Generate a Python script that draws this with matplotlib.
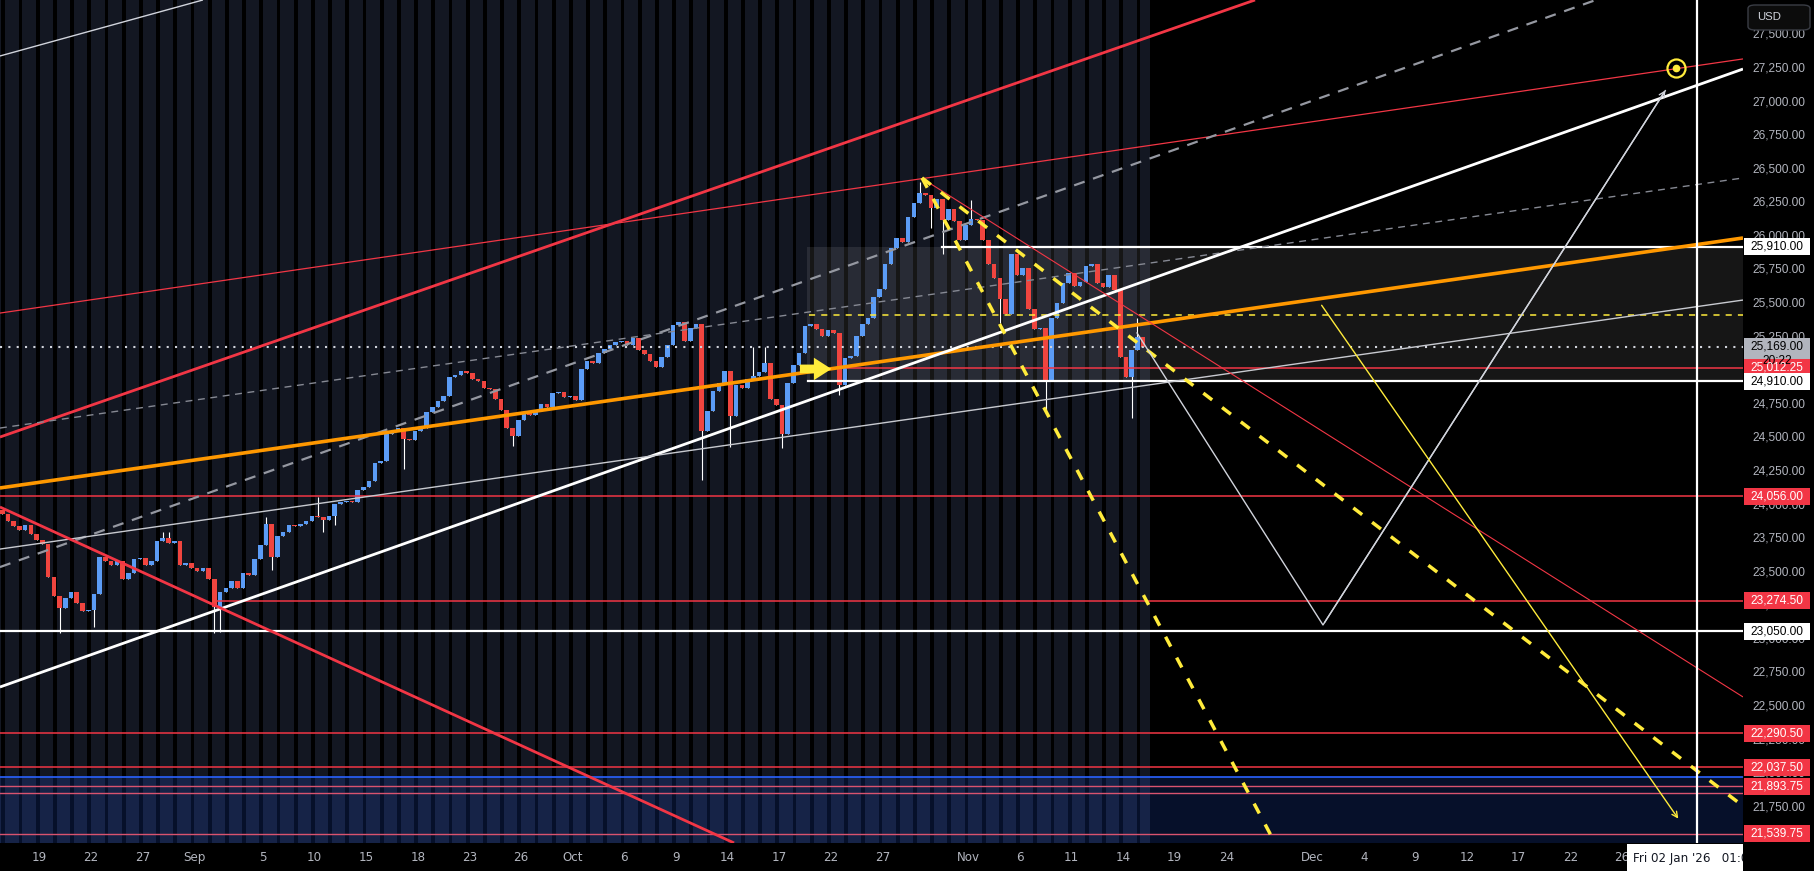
import numpy as np
import matplotlib.pyplot as plt
from matplotlib.patches import Rectangle, FancyBboxPatch
from matplotlib.transforms import blended_transform_factory

plt.rcParams['font.family'] = ['Liberation Sans', 'DejaVu Sans']

# ---- scales: x is trading-day index (Aug 19 = 0), y is price
price_ticks = np.arange(21750, 27501, 250)
date_tick_idx = [0, 3, 6, 9, 13, 16, 19, 22, 25, 28, 31, 34, 37, 40, 43, 46, 49,
                 54, 57, 60, 63, 66, 69, 74, 77, 80, 83, 86, 89, 92]
date_tick_lbl = ['19', '22', '27', 'Sep', '5', '10', '15', '18', '23', '26', 'Oct',
                 '6', '9', '14', '17', '22', '27', 'Nov', '6', '11', '14', '19',
                 '24', 'Dec', '4', '9', '12', '17', '22', '26']
x_range = (-2.297, 99.04)
y_range = (21472.7, 27748.8)
now_t = 64.55          # last bar time, session shading stops here
cursor_t = 96.37       # vertical line (Fri 02 Jan '26)

# ---- candles, 3 per trading day starting Aug 15 (last third)
first_open = 23950
closes = [
    23920, 23870, 23830, 23800, 23840, 23770, 23730, 23700, 23450, 23310,
    23220, 23300, 23340, 23260, 23200, 23210, 23330, 23600, 23570, 23545,
    23570, 23440, 23480, 23590, 23595, 23540, 23570, 23720, 23745, 23705,
    23720, 23540, 23555, 23520, 23500, 23520, 23440, 23230, 23340, 23370,
    23420, 23370, 23480, 23470, 23590, 23690, 23850, 23600, 23760, 23790,
    23840, 23830, 23850, 23870, 23905, 23900, 23880, 23910, 24000, 24010,
    24020, 24010, 24100, 24120, 24170, 24300, 24320, 24520, 24540, 24560,
    24480, 24470, 24540, 24560, 24680, 24720, 24760, 24800, 24940, 24960,
    24990, 24970, 24930, 24910, 24860, 24850, 24780, 24700, 24560, 24500,
    24620, 24680, 24660, 24700, 24740, 24720, 24820, 24830, 24790, 24800,
    24770, 25000, 25060, 25050, 25120, 25150, 25180, 25200, 25210, 25180,
    25230, 25140, 25110, 25060, 25020, 25090, 25180, 25330, 25350, 25210,
    25310, 25340, 24540, 24690, 24840, 24900, 24990, 24650, 24880, 24860,
    24930, 24950, 24980, 25050, 24780, 24730, 24520, 24900, 25030, 25120,
    25320, 25340, 25300, 25250, 25290, 25270, 24880, 25080, 25100, 25250,
    25340, 25380, 25540, 25600, 25780, 25900, 25980, 25950, 26130, 26240,
    26310, 26300, 26200, 26270, 26110, 26190, 26100, 25960, 26070, 26120,
    26110, 25960, 25780, 25680, 25520, 25410, 25860, 25700, 25750, 25450,
    25300, 25310, 24920, 25380, 25490, 25640, 25720, 25620, 25650, 25770,
    25780, 25640, 25610, 25700, 25590, 25090, 24940, 25140, 25240, 25169,
]
wick_high = {28: 23790, 29: 23788, 46: 23900, 55: 24049, 131: 25165, 133: 25165,
             160: 26396, 169: 26260, 198: 25380}
wick_low = {10: 23036, 16: 23080, 37: 23036, 38: 23040, 47: 23505, 56: 23788,
            58: 23840, 70: 24260, 89: 24430, 122: 24175, 127: 24421, 136: 24413,
            146: 24808, 162: 26050, 164: 25860, 174: 25345, 182: 24700, 197: 24640}

# ---- horizontal levels: price, start index (None = full width)
lvl_white = [(25910, 52.47), (24910, 44.68), (23050, None)]
lvl_red = [(25012.25, 46.95), (24056, None), (23274.5, 10.32), (22290.5, None), (22037.5, None)]
lvl_pink = [21893.75, 21845, 21539.75]
lvl_blue = 21964
lvl_yellow = (25403, 44.74)
last_price = 25169
box_range = (44.62, 24910, 25910)

# ---- drawn trend lines (index, price)
trend_pts = {
    'white_top': [(-2.3, 27332), (9.5, 27749)],
    'red_thick_up': [(-2.3, 24495), (70.67, 27749)],
    'red_thin_up': [(-2.3, 25418), (99.04, 27310)],
    'gray_dash_long': [(-2.3, 23527), (90.49, 27749)],
    'gray_dash_fine': [(-2.3, 24562), (99.04, 26424)],
    'orange': [(-2.3, 24116), (99.04, 25977)],
    'white_thick_up': [(-2.3, 22634), (99.04, 27235)],
    'white_thin_up': [(-2.3, 23661), (99.04, 25515)],
    'red_thick_down': [(-2.3, 23974), (40.38, 21473)],
    'red_thin_down': [(51.37, 26416), (99.04, 22560)],
    'yellow_dash_steep': [(51.31, 26424), (71.83, 21473)],
    'yellow_dash': [(51.31, 26424), (99.04, 21748)],
}
zigzag_pts = [(63.81, 25270), (74.62, 23096), (94.62, 27094)]
yellow_arrow_pts = [(74.45, 25493), (95.37, 21637)]
fat_arrow_pts = [(44.05, 25002), (46.2, 25002)]
target_pt = (95.15, 27242)

axis_tags = [
    (25910.0, '25,910.00', 'white', 'black'),
    (25169.0, '25,169.00', '#b2b5be', 'black'),
    (25012.25, '25,012.25', '#f23645', 'white'),
    (24910.0, '24,910.00', 'white', 'black'),
    (24056.0, '24,056.00', '#f23645', 'white'),
    (23274.5, '23,274.50', '#f23645', 'white'),
    (23050.0, '23,050.00', 'white', 'black'),
    (22290.5, '22,290.50', '#f23645', 'white'),
    (22037.5, '22,037.50', '#f23645', 'white'),
    (21893.75, '21,893.75', '#f23645', 'white'),
    (21539.75, '21,539.75', '#f23645', 'white'),
]

W, H = 1815, 871
fig = plt.figure(figsize=(W / 100, H / 100), dpi=100, facecolor='black')
ax = fig.add_axes([0, 28 / H, 1743 / W, 843 / H])
ax.set_facecolor('black')
ax.set_xlim(*x_range)
ax.set_ylim(*y_range)
for s in ax.spines.values():
    s.set_visible(False)

# session shading stripes
days = np.arange(-3, 65)
widths = np.minimum(0.78, now_t - days)
ax.bar(days, y_range[1] - y_range[0], width=widths, bottom=y_range[0], align='edge',
       color='#131722', linewidth=0, zorder=0)

# box and lower blue zone
ax.add_patch(Rectangle((box_range[0], box_range[1]), 60, box_range[2] - box_range[1],
                       facecolor='white', alpha=0.09, linewidth=0, zorder=1))
ax.add_patch(Rectangle((-5, y_range[0]), 110, lvl_blue - y_range[0],
                       facecolor='#2962ff', alpha=0.17, linewidth=0, zorder=1))

# candles
c = np.array(closes, dtype=float)
o = np.concatenate([[first_open], c[:-1]])
t = -2.1667 + np.arange(len(c)) / 3
hi = np.maximum(o, c)
lo = np.minimum(o, c)
for k, v in wick_high.items():
    hi[k] = max(hi[k], v)
for k, v in wick_low.items():
    lo[k] = min(lo[k], v)
up = c >= o
ax.vlines(t, lo, hi, color='white', linewidth=0.8, zorder=3)
ax.bar(t, np.maximum(np.abs(c - o), 8), bottom=np.minimum(o, c), width=0.27,
       color=np.where(up, '#5b9cf6', '#f0453f'), linewidth=0, zorder=3)

# horizontal levels
x_end = x_range[1] + 1
for p, x0 in lvl_white:
    ax.plot([x_range[0] if x0 is None else x0, x_end], [p, p], color='white', lw=1.6, zorder=4)
for p, x0 in lvl_red:
    ax.plot([x_range[0] if x0 is None else x0, x_end], [p, p], color='#f23645', lw=1.1, zorder=4)
for p in lvl_pink:
    ax.plot(x_range, [p, p], color='#d9536f', lw=1.0, zorder=4)
ax.plot(x_range, [lvl_blue, lvl_blue], color='#2962ff', lw=1.2, zorder=4)
ax.plot([lvl_yellow[1], x_end], [lvl_yellow[0]] * 2, color='#ffeb3b', lw=1.1,
        dashes=(4, 4), zorder=4)
ax.plot(x_range, [last_price] * 2, color='#d1d4dc', lw=1.5, dashes=(1, 3), zorder=4)

styles = {
    'white_top': dict(color='#d1d4dc', lw=1.0),
    'red_thick_up': dict(color='#f23645', lw=2.0),
    'red_thin_up': dict(color='#f23645', lw=0.9),
    'gray_dash_long': dict(color='#9598a1', lw=1.6, dashes=(5, 4)),
    'gray_dash_fine': dict(color='#868993', lw=1.0, dashes=(5, 4)),
    'orange': dict(color='#ff9800', lw=2.6),
    'white_thick_up': dict(color='white', lw=2.0),
    'white_thin_up': dict(color='#c8cad0', lw=1.0),
    'red_thick_down': dict(color='#f23645', lw=2.0),
    'red_thin_down': dict(color='#f23645', lw=0.8),
    'yellow_dash_steep': dict(color='#ffeb3b', lw=2.5, dashes=(3.2, 3.6)),
    'yellow_dash': dict(color='#ffeb3b', lw=2.5, dashes=(3.2, 3.6)),
}
for name, pts in trend_pts.items():
    xs, ys = zip(*pts)
    ax.plot(xs, ys, zorder=5, solid_capstyle='butt', **styles[name])

zx, zy = zip(*zigzag_pts)
ax.plot(zx[:-1] + (zx[-1] - 0.1,), zy[:-1] + (zy[-1] - 20,), color='#d1d4dc', lw=1.0, zorder=5)
ax.annotate('', xy=zigzag_pts[-1], xytext=zigzag_pts[-2],
            arrowprops=dict(arrowstyle='->', color='#d1d4dc', lw=1.0, mutation_scale=10), zorder=5)
ax.annotate('', xy=yellow_arrow_pts[1], xytext=yellow_arrow_pts[0],
            arrowprops=dict(arrowstyle='->', color='#ffeb3b', lw=1.0, mutation_scale=10), zorder=5)
ax.annotate('', xy=fat_arrow_pts[1], xytext=fat_arrow_pts[0],
            arrowprops=dict(arrowstyle='simple,head_length=0.7,head_width=0.9,tail_width=0.35',
                            color='#ffeb3b', mutation_scale=18, lw=0), zorder=6)
ax.plot(*target_pt, marker='o', ms=13, mfc='none', mec='#ffeb3b', mew=1.6, zorder=6)
ax.plot(*target_pt, marker='o', ms=4.5, mfc='#ffeb3b', mec='#ffeb3b', zorder=6)
ax.axvline(cursor_t, color='white', lw=1.6, zorder=6)

# axes ticks
ax.yaxis.tick_right()
ax.set_yticks(price_ticks)
ax.set_yticklabels([f'{v:,.2f}' for v in price_ticks])
ax.tick_params(axis='y', length=0, pad=6.5, labelcolor='#b2b5be', labelsize=8.6)
ax.set_xticks(date_tick_idx)
ax.set_xticklabels(date_tick_lbl, family=['Liberation Sans Narrow', 'DejaVu Sans'])
ax.tick_params(axis='x', length=0, pad=6, labelcolor='#b2b5be', labelsize=8.6)

# price tags on the axis
tr = blended_transform_factory(ax.transAxes, ax.transData)
tag_h = 17 / 0.13432
for p, txt, bg, fg in axis_tags:
    ax.add_patch(Rectangle((1.0006, p - tag_h / 2), 66 / 1743, tag_h, transform=tr,
                           facecolor=bg, linewidth=0, clip_on=False, zorder=10))
    ax.text(1.0006 + 33 / 1743, p, txt, transform=tr, ha='center', va='center',
            color=fg, fontsize=8.6, clip_on=False, zorder=11)
    if txt == '25,169.00':
        ax.add_patch(Rectangle((1.0006, p - tag_h * 1.3), 66 / 1743, tag_h, transform=tr,
                               facecolor=bg, linewidth=0, clip_on=False, zorder=10))
        ax.text(1.0006 + 33 / 1743, p - tag_h * 0.85, '20:22', transform=tr, ha='center',
                va='center', color=fg, fontsize=8.6, clip_on=False, zorder=10.5)

# USD button, time tag and corner cover
fig.add_artist(FancyBboxPatch((1748 / W, 1 - 30 / H), 62 / W, 25 / H,
                              boxstyle='round,pad=0,rounding_size=0.004',
                              transform=fig.transFigure, facecolor='#0c0c0c',
                              edgecolor='#3a3d45', linewidth=1, zorder=6))
fig.text(1757 / W, 1 - 17 / H, 'USD', color='#d1d4dc', fontsize=8.2, va='center', zorder=7)
fig.add_artist(Rectangle((1627 / W, 0), 116 / W, 27 / H, transform=fig.transFigure,
                         facecolor='white', linewidth=0, zorder=6))
fig.text(1633 / W, 13 / H, "Fri 02 Jan '26   01:00", color='#131722', fontsize=8.6,
         family=['Liberation Sans Narrow', 'DejaVu Sans'], va='center', zorder=7)
fig.add_artist(Rectangle((1743 / W, 0), 72 / W, 28 / H, transform=fig.transFigure,
                         facecolor='black', linewidth=0, zorder=8))

fig.savefig('out.png', dpi=100, facecolor='black')
